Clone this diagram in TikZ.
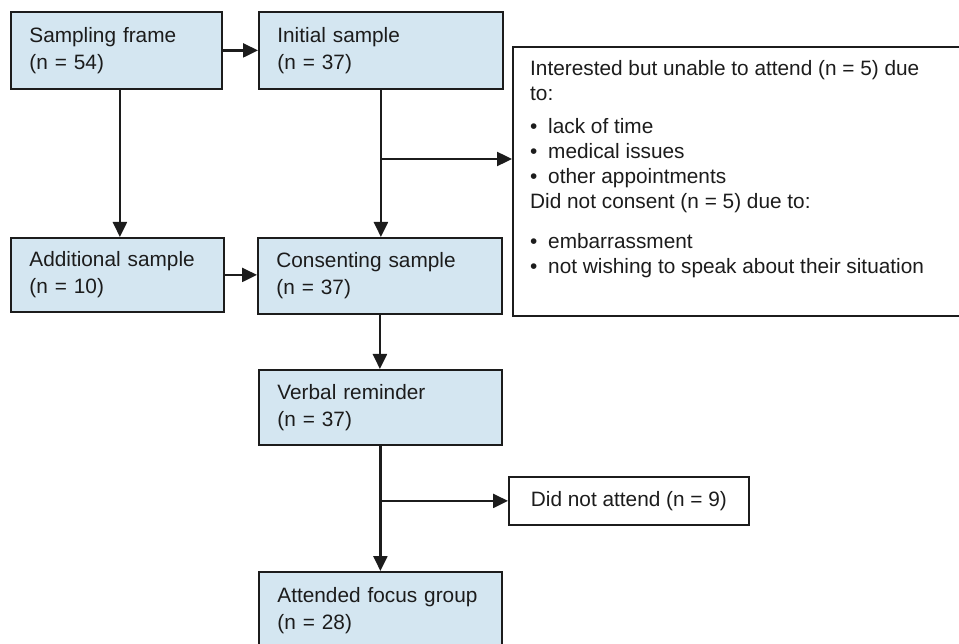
\documentclass[tikz,border=0pt]{standalone}
\usepackage{fontspec}
\setmainfont{Liberation Sans}
\usetikzlibrary{arrows.meta}
\definecolor{boxblue}{RGB}{212,230,241}
\definecolor{ink}{RGB}{28,28,28}
\begin{document}
\begin{tikzpicture}[x=1pt,y=-1pt,
  box/.style={draw=ink, line width=1.8pt, fill=boxblue, anchor=north west,
    inner xsep=18.5pt, inner ysep=0pt, align=left,
    font=\fontsize{20.8}{27}\selectfont, text=ink},
  plainbox/.style={draw=ink, line width=1.8pt, fill=white, anchor=north west,
    inner sep=0pt, align=center, font=\fontsize{20.8}{27}\selectfont, text=ink},
  arr/.style={draw=ink, line width=2.4pt, -{Triangle[length=15pt,width=14pt]}}]
\useasboundingbox (0,0) rectangle (959,644);
\fill[white] (0,0) rectangle (959,644);

\node[box, text width=174pt, minimum height=77pt] (SF) at (10,11) {Sampling frame\\(n = 54)};
\node[box, text width=207pt, minimum height=77pt] (IS) at (258,11) {Initial sample\\(n = 37)};
\node[box, text width=176pt, minimum height=74pt] (AS) at (10,237) {Additional sample\\(n = 10)};
\node[box, text width=207pt, minimum height=76pt] (CS) at (257,237) {Consenting sample\\(n = 37)};
\node[box, text width=206pt, minimum height=75pt] (VR) at (258,369) {Verbal reminder\\(n = 37)};
\node[box, text width=206pt, minimum height=77pt] (AFG) at (258,571) {Attended focus group\\(n = 28)};

\node[plainbox, minimum width=448pt, minimum height=269pt] (reasons) at (512,46) {};
\node[anchor=north west, inner sep=0pt, align=left,
  font=\fontsize{20.8}{25}\selectfont, text=ink] (rtext) at (530,60)
  {Interested but unable to attend (n = 5) due\\
   to:\\[8pt]
   \makebox[18pt][l]{•}lack of time\\
   \makebox[18pt][l]{•}medical issues\\
   \makebox[18pt][l]{•}other appointments\\
   Did not consent (n = 5) due to:\\[15pt]
   \makebox[18pt][l]{•}embarrassment\\
   \makebox[18pt][l]{•}not wishing to speak about their situation};

\node[plainbox, minimum width=240pt, minimum height=48pt] (DNA) at (508,476) {Did not attend (n = 9)};

\draw[arr] (SF.east) -- (SF.east -| IS.west);
\draw[arr] ([xshift=3.5pt]SF.south) -- ([xshift=3.5pt]SF.south |- AS.north);
\draw[arr] (IS.south) -- (IS.south |- CS.north);
\coordinate (b1) at (380,159);
\draw[arr] (b1) -- (b1 -| reasons.west);
\draw[arr] (AS.east) -- (AS.east -| CS.west);
\draw[arr] (CS.south) -- (CS.south |- VR.north);
\draw[arr] (VR.south) -- (VR.south |- AFG.north);
\coordinate (b2) at (VR.south |- DNA.west);
\draw[arr] (b2) -- (DNA.west);
\end{tikzpicture}
\end{document}
